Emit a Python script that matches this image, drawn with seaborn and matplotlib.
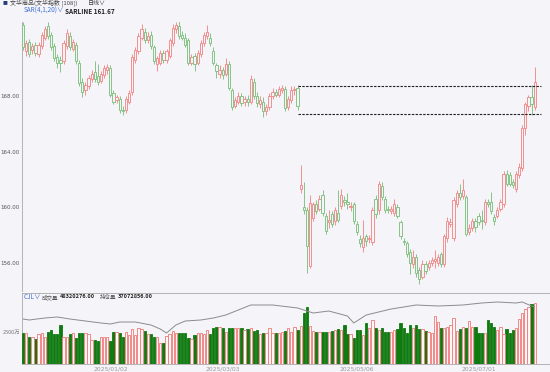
import numpy as np
import pandas as pd
import seaborn as sns
import matplotlib.pyplot as plt
from matplotlib.colors import to_rgb

# --- daily bars (index = trading day from left edge) ---
opens = [
    173.1, 171.2, 171.9, 171.3, 171.7, 171.0, 171.6, 172.2, 173.0, 172.4,
    171.6, 170.8, 170.6, 170.5, 171.6, 172.3, 171.4, 171.7, 170.4, 169.0,
    168.4, 168.7, 169.2, 169.7, 169.4, 169.1, 169.5, 169.9, 170.0, 168.2,
    167.7, 167.8, 167.0, 167.0, 167.6, 168.3, 170.6, 171.2, 172.2, 172.6,
    172.0, 172.4, 171.5, 170.3, 170.4, 171.1, 170.6, 170.9, 171.8, 172.8,
    173.0, 172.4, 172.2, 172.0, 170.4, 170.9, 170.4, 171.0, 171.8, 172.3,
    172.2, 171.2, 170.2, 169.6, 169.9, 169.6, 170.3, 168.4, 167.3, 167.6,
    168.0, 167.6, 167.8, 167.6, 169.0, 168.0, 167.4, 167.6, 166.9, 167.2,
    168.0, 168.3, 168.1, 168.4, 168.5, 167.2, 167.7, 168.4, 168.6, 161.3,
    160.0, 159.8, 155.8, 159.2, 160.2, 159.9, 160.9, 159.4, 158.9, 159.5,
    159.0, 159.6, 160.1, 160.5, 160.4, 160.0, 160.2, 158.8, 157.7, 157.1,
    157.9, 157.7, 157.5, 160.6, 159.8, 161.5, 160.6, 159.9, 159.7, 159.6,
    160.0, 158.9, 157.6, 157.4, 156.8, 155.9, 156.4, 155.5, 155.0, 155.9,
    155.7, 156.0, 156.1, 156.0, 156.6, 155.9, 157.8, 158.8, 157.8, 160.2,
    161.0, 160.8, 160.7, 158.2, 158.5, 159.0, 159.4, 159.1, 158.9, 160.4,
    160.4, 159.3, 159.4, 159.9, 160.2, 162.4, 162.3, 161.8, 161.3, 162.3,
    162.8, 165.7, 167.3, 167.9, 167.2,
]
highs = [
    173.3, 172.0, 172.1, 171.8, 171.9, 171.9, 172.6, 173.0, 173.3, 172.6,
    171.8, 171.0, 170.9, 172.0, 172.8, 172.6, 172.1, 171.9, 170.6, 169.3,
    169.0, 169.5, 169.9, 170.5, 170.3, 169.8, 170.2, 170.3, 170.2, 168.4,
    168.1, 168.0, 167.3, 168.0, 168.4, 171.0, 171.5, 172.5, 173.2, 172.9,
    172.6, 172.7, 171.7, 170.9, 171.3, 171.3, 171.4, 172.2, 173.2, 173.3,
    173.5, 172.7, 172.5, 172.2, 171.0, 171.1, 171.3, 172.0, 172.6, 173.1,
    172.5, 171.5, 170.4, 170.2, 170.1, 170.7, 170.5, 168.6, 167.9, 168.3,
    168.2, 168.0, 168.1, 169.5, 169.3, 168.3, 168.0, 167.9, 167.4, 168.2,
    168.6, 168.5, 168.7, 168.8, 168.7, 168.0, 168.7, 168.7, 168.8, 163.0,
    161.8, 160.0, 160.9, 160.4, 160.5, 160.9, 161.2, 159.6, 159.8, 159.7,
    160.0, 161.2, 161.3, 160.8, 161.0, 160.4, 160.4, 159.0, 158.0, 159.1,
    158.1, 158.0, 160.0, 160.9, 161.9, 161.8, 160.8, 160.1, 160.1, 160.6,
    160.2, 159.1, 157.8, 157.6, 157.0, 156.9, 156.6, 155.7, 156.2, 156.1,
    156.2, 156.4, 156.9, 156.6, 156.8, 158.1, 159.3, 159.2, 160.7, 161.2,
    161.7, 162.0, 160.9, 158.8, 159.2, 159.2, 159.6, 159.8, 160.6, 160.6,
    161.1, 159.5, 160.0, 160.6, 162.6, 162.7, 162.5, 162.0, 162.6, 163.2,
    165.9, 167.6, 168.1, 168.8, 170.1,
]
lows = [
    171.3, 170.9, 170.8, 171.0, 170.9, 170.8, 171.4, 172.0, 172.1, 171.3,
    170.5, 170.0, 169.7, 170.3, 171.4, 171.3, 171.2, 170.3, 168.7, 167.9,
    168.1, 168.5, 169.0, 169.0, 168.8, 168.9, 169.3, 169.6, 167.9, 167.4,
    167.5, 166.8, 166.6, 166.8, 167.4, 168.1, 170.4, 171.0, 172.0, 171.8,
    171.8, 171.4, 170.3, 169.8, 170.2, 170.4, 170.4, 170.7, 171.6, 172.5,
    172.1, 172.0, 171.5, 170.2, 170.2, 169.8, 170.2, 170.8, 171.6, 172.1,
    171.6, 170.2, 169.3, 169.3, 169.2, 169.4, 168.4, 167.0, 167.1, 167.4,
    167.3, 167.3, 167.3, 167.4, 167.8, 167.2, 167.1, 166.5, 166.6, 167.0,
    167.8, 167.9, 167.9, 168.2, 166.9, 167.0, 167.5, 168.1, 167.0, 161.0,
    159.5, 155.3, 155.6, 159.0, 159.5, 159.7, 159.4, 158.1, 158.5, 158.6,
    158.7, 158.9, 159.9, 160.1, 159.9, 159.7, 158.8, 158.0, 157.1, 156.8,
    157.2, 157.4, 157.3, 159.2, 159.5, 160.5, 159.6, 159.6, 159.5, 159.4,
    159.2, 157.7, 157.3, 156.4, 155.2, 155.6, 155.0, 154.5, 154.8, 155.2,
    155.5, 155.8, 155.6, 155.8, 155.7, 155.7, 157.5, 158.6, 157.6, 160.0,
    160.5, 160.6, 157.9, 158.0, 158.3, 158.2, 158.7, 158.4, 158.7, 160.0,
    159.5, 158.7, 159.2, 159.7, 160.0, 161.5, 161.5, 161.4, 161.1, 162.1,
    162.6, 165.2, 166.9, 166.6, 167.0,
]
closes = [
    171.5, 171.8, 171.0, 171.6, 171.1, 171.7, 172.4, 172.8, 172.3, 171.5,
    170.7, 170.4, 170.4, 171.8, 172.5, 171.5, 171.9, 170.5, 168.9, 168.3,
    168.8, 169.3, 169.6, 169.2, 169.0, 169.6, 170.0, 170.1, 168.1, 167.6,
    167.9, 167.0, 166.9, 167.8, 168.2, 170.8, 171.3, 172.3, 172.8, 172.0,
    172.3, 171.6, 170.5, 170.7, 171.1, 170.6, 171.2, 172.0, 172.9, 173.1,
    172.3, 172.2, 171.7, 170.4, 170.8, 170.3, 171.1, 171.8, 172.4, 172.6,
    171.8, 170.4, 169.8, 169.9, 169.5, 170.3, 168.6, 167.2, 167.7, 168.0,
    167.5, 167.8, 167.6, 169.2, 168.0, 167.5, 167.7, 166.9, 167.2, 168.0,
    168.3, 168.1, 168.5, 168.6, 167.1, 167.8, 168.4, 168.5, 167.3, 161.6,
    159.8, 157.2, 160.3, 160.2, 159.7, 160.6, 159.6, 158.3, 159.1, 158.8,
    159.8, 159.1, 160.9, 160.4, 160.2, 160.1, 159.0, 158.2, 157.4, 157.8,
    157.6, 157.8, 159.8, 159.5, 161.7, 160.7, 159.8, 159.8, 159.9, 160.2,
    159.4, 157.9, 157.5, 156.6, 156.0, 156.4, 155.3, 154.8, 155.9, 155.4,
    156.0, 156.2, 156.3, 156.4, 155.9, 157.9, 159.0, 158.9, 160.5, 161.0,
    160.7, 161.2, 158.1, 158.5, 159.0, 158.6, 158.9, 159.0, 160.4, 160.2,
    159.7, 159.0, 159.8, 160.4, 162.4, 161.7, 161.7, 161.6, 162.4, 162.9,
    165.7, 167.4, 167.9, 167.4, 169.0,
]
# volume in 万手
volumes = [
    2430, 2430, 2160, 2110, 1980, 2370, 2430, 2110, 2560, 2690,
    2370, 2370, 3090, 2110, 2160, 2350, 2430, 2030, 2430, 2430,
    2430, 2350, 1900, 1900, 1850, 2110, 2110, 2110, 1850, 2560,
    2560, 2430, 2110, 2510, 2290, 2740, 2290, 2870, 2740, 2640,
    2370, 2350, 2110, 2160, 1690, 1640, 2220, 2370, 2640, 2480,
    2480, 2430, 2480, 2030, 1980, 2290, 2430, 2430, 2370, 2690,
    2370, 2820, 2950, 2900, 2820, 2510, 2820, 2820, 2820, 2820,
    2820, 2690, 2740, 2820, 2640, 2690, 2370, 2430, 2430, 2820,
    2430, 2480, 2430, 2560, 2640, 2820, 2560, 2950, 2690, 3030,
    4010, 4540, 3030, 2640, 2560, 2510, 2560, 2560, 2560, 2640,
    2690, 2740, 2690, 3090, 2370, 2350, 2030, 2690, 2690, 2290,
    3220, 2820, 3480, 2820, 2690, 2820, 2510, 2510, 2560, 2690,
    2740, 3220, 2870, 2430, 3090, 2820, 3090, 2740, 2740, 2640,
    2510, 2430, 3800, 3350, 2820, 2820, 2950, 3090, 3610, 2610,
    2740, 2950, 2820, 3430, 2950, 2900, 2430, 2430, 2480, 3480,
    3270, 2950, 2690, 2950, 2350, 2740, 2430, 2690, 2820, 3530,
    4010, 4320, 4480, 4750, 4832,
]
# open interest (万手), sampled days
oi_days = [0, 2, 7, 11, 15, 20, 25, 28, 31, 36, 41, 44, 46, 49, 52, 57, 61, 65,
           69, 73, 80, 88, 91, 93, 98, 104, 106, 110, 118, 126, 133, 141, 147,
           152, 158, 160, 163, 164]
oi_values = [3587, 3577, 3597, 3607, 3587, 3567, 3547, 3537, 3557, 3557, 3527,
             3487, 3447, 3527, 3567, 3577, 3597, 3627, 3677, 3727, 3727, 3697,
             3667, 3647, 3667, 3617, 3547, 3627, 3687, 3727, 3717, 3727, 3747,
             3757, 3747, 3757, 3717, 3707]
level_prices = [168.72, 166.68]
date_ticks = [28, 64, 107, 146]
date_labels = ['2025/01/02', '2025/03/03', '2025/05/06', '2025/07/01']
price_ticks = [156, 160, 164, 168]

BG = '#f4f4f9'
UP = '#f28f8f'
DOWN = '#86c386'
VOL_UP = '#f07878'
VOL_DOWN = '#0f7a0f'
W, H = 550, 372

sns.set_style('white', rc={'axes.facecolor': BG, 'figure.facecolor': BG})
plt.rcParams['font.family'] = ['Noto Sans CJK SC', 'DejaVu Sans']

df = pd.DataFrame({'open': opens, 'high': highs, 'low': lows,
                   'close': closes, 'vol': volumes})
df['day'] = np.arange(len(df))
df['dir'] = np.where(df['close'] >= df['open'], 'up', 'down')

fig = plt.figure(figsize=(W / 100, H / 100), dpi=100)
fig.patch.set_facecolor(BG)


def frac(x0, y0, x1, y1):
    return [x0 / W, 1 - y1 / H, (x1 - x0) / W, (y1 - y0) / H]


xlim = (-0.32, 168.9)

# --- price panel ---
ax = fig.add_axes(frac(22, 22, 550, 291))
ax.set_facecolor(BG)
colors = np.where(df['dir'] == 'up', UP, DOWN)
ax.vlines(df['day'], df['low'], df['high'], colors=colors, lw=0.7, zorder=2)
body = (df['close'] - df['open']).abs().clip(lower=0.06)
ax.bar(df['day'], body, bottom=df[['open', 'close']].min(axis=1), width=0.72,
       facecolor=BG, edgecolor=colors, linewidth=0.7, zorder=3)
ax.hlines(level_prices, 88, 166, colors='#222222', linestyles=(0, (2.2, 1.2)),
          lw=0.8, zorder=4)
ax.set_xlim(*xlim)
ax.set_ylim(153.97, 173.32)
ax.set_xticks([])
ax.set_yticks(price_ticks)
ax.set_yticklabels([f'{p:.2f}' for p in price_ticks], family='DejaVu Sans')
ax.tick_params(axis='y', length=0, pad=1.5, labelsize=4.0, labelcolor='#555555')
for s in ['top', 'right', 'bottom']:
    ax.spines[s].set_visible(False)
ax.spines['left'].set_color('#a8a8a8')
ax.spines['left'].set_linewidth(0.6)

# --- volume panel ---
axv = fig.add_axes(frac(22, 293, 550, 364))
axv.set_facecolor(BG)
sns.barplot(data=df, x='day', y='vol', hue='dir', native_scale=True,
            palette={'up': VOL_UP, 'down': VOL_DOWN}, width=0.74,
            saturation=1, legend=False, ax=axv, zorder=3)
for p in axv.patches:
    if np.allclose(p.get_facecolor()[:3], to_rgb(VOL_UP)):
        p.set_facecolor('#fdf7f8')
        p.set_edgecolor(VOL_UP)
    else:
        p.set_edgecolor(VOL_DOWN)
    p.set_linewidth(0.6)
axv.set_xlim(*xlim)
axv.set_ylim(0, 5620)
axv.set_yticks([2500])
axv.set_yticklabels(['2500万'])
axv.tick_params(axis='y', length=0, pad=1.5, labelsize=4.0, labelcolor='#777777')
axv.set_xticks(date_ticks)
axv.set_xticklabels(date_labels, family='DejaVu Sans')
axv.tick_params(axis='x', length=0, pad=1.5, labelsize=4.3, labelcolor='#999999')
axv.set_xlabel('')
axv.set_ylabel('')
axv.spines['right'].set_visible(False)
for s in ['top', 'bottom', 'left']:
    axv.spines[s].set_color('#a8a8a8')
    axv.spines[s].set_linewidth(0.6)

axo = axv.twinx()
sns.lineplot(x=oi_days, y=oi_values, ax=axo, color='#8c8c8c', lw=0.7)
axo.set_ylim(3137, 3847)
axo.set_xlim(*xlim)
axo.set_yticks([])
axo.set_ylabel('')
for s in axo.spines.values():
    s.set_visible(False)

# --- header texts ---
def ftext(x, y, s, **kw):
    fig.text(x / W, 1 - y / H, s, va='center', ha='left', **kw)


ftext(3, 3, '■', fontsize=3.5, color='#1f3f7a')
ftext(10, 3, '文华商品(文华指数 [108])', fontsize=4.3, color='#444444')
ftext(88, 3, '日线∨', fontsize=4.3, color='#444444')
ftext(24, 11, 'SAR(4,1,20)∨', fontsize=4.6, color='#3f6fd8')
ftext(65, 11, 'SARLINE 161.67', fontsize=4.6, color='#222222', weight='bold')
ftext(24, 297, 'CJL∨', fontsize=4.6, color='#3f6fd8')
ftext(42, 297, '成交量', fontsize=4.0, color='#555555')
ftext(60, 297, '48320276.00', fontsize=4.0, color='#222222', weight='bold')
ftext(100, 297, '持仓量', fontsize=4.0, color='#555555')
ftext(118, 297, '37072856.00', fontsize=4.0, color='#222222', weight='bold')

fig.savefig('out.png', dpi=100, facecolor=BG)
